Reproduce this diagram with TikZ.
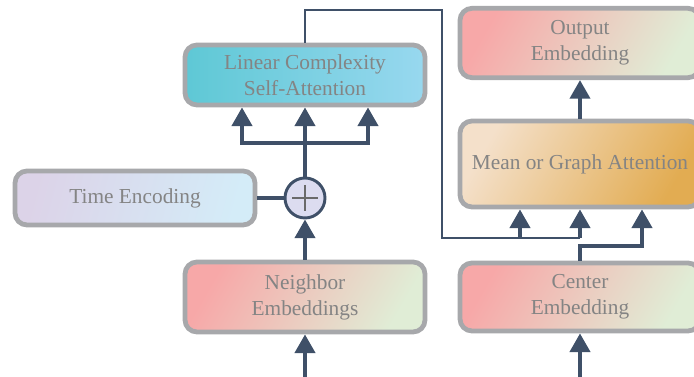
\documentclass[tikz,border=0pt]{standalone}
\usepackage{fontspec}
\setmainfont{Liberation Serif}
\usetikzlibrary{arrows.meta,calc}

\definecolor{linkblue}{HTML}{3F5068}
\definecolor{framegray}{HTML}{A7A8AB}
\definecolor{textgray}{HTML}{848484}
\definecolor{pinkA}{HTML}{F7A8A8}
\definecolor{greenA}{HTML}{E0EDD6}
\definecolor{cyanA}{HTML}{5EC8D5}
\definecolor{cyanB}{HTML}{98D8EF}
\definecolor{sandA}{HTML}{F4E0CA}
\definecolor{sandB}{HTML}{E2AC52}
\definecolor{lilacA}{HTML}{DCD3E8}
\definecolor{skyA}{HTML}{D4ECF8}
\definecolor{plusfill}{HTML}{DCDCF0}

\newcommand*{\boxw}{180pt}
\newcommand*{\forky}{143}
\newcommand*{\skipy}{238}

\begin{document}
\begin{tikzpicture}
[
	x=0.75pt, y=-0.75pt,
	block/.style={draw=framegray,line width=3.6pt,rounded corners=9pt,
		minimum width=\boxw,align=center,text=textgray,
		font=\fontsize{16}{19.5}\selectfont},
	embblock/.style={block,top color=pinkA,bottom color=greenA,shading angle=60},
	link/.style={draw=linkblue,line width=3pt},
	arrow/.style={link,-{Triangle[width=15pt,length=14pt]}},
	thinlink/.style={draw=linkblue,line width=2.2pt}
]

	\useasboundingbox (0,0) rectangle (694,377);

	% left column
	\node[block,left color=cyanA,right color=cyanB,minimum height=45pt] (lcsa) at (305,75) {Linear Complexity\\Self-Attention};
	\node[embblock,minimum height=52.5pt] (neigh) at (305,297) {Neighbor\\Embeddings};
	\node[block,top color=lilacA,bottom color=skyA,shading angle=75,minimum height=40.5pt] (time) at (135,198) {Time Encoding};
	\node[circle,draw=linkblue,line width=2.2pt,fill=plusfill,minimum size=30pt,inner sep=0pt] (plus) at (305,198) {};
	\draw[textgray!80!black,line width=1.5pt] ($(plus.center)+(-13,0)$) -- ($(plus.center)+(13,0)$);
	\draw[textgray!80!black,line width=1.5pt] ($(plus.center)+(0,-13)$) -- ($(plus.center)+(0,13)$);

	% right column
	\node[embblock,minimum height=52pt] (out) at (580,43) {Output\\Embedding};
	\node[block,top color=sandA,bottom color=sandB,shading angle=60,minimum height=64.5pt] (mean) at (580,164) {Mean or Graph Attention};
	\node[embblock,minimum height=51pt] (center) at (580,297) {Center\\Embedding};

	\coordinate (nin) at (305,377);
	\coordinate (cin) at (580,377);
	\coordinate (fork) at (305,\forky);
	\coordinate (skipend) at (580,\skipy);

	% inputs
	\draw[arrow] (nin) -- (neigh.south);
	\draw[arrow] (cin) -- (center.south);

	% neighbor path
	\draw[arrow] (neigh.north) -- (plus.south);
	\draw[link] (time.east) -- (plus.west);
	\draw[arrow] (plus.north) -- (lcsa.south);
	\draw[arrow] (fork) -| ($(lcsa.south)+(-63,0)$);
	\draw[arrow] (fork) -| ($(lcsa.south)+(63,0)$);

	% skip to aggregation
	\draw[thinlink] (lcsa.north) |- (442,10) |- (skipend);
	\draw[arrow] (skipend) -- (mean.south);
	\draw[arrow] ($(skipend)+(-60,0)$) -- ($(mean.south)+(-60,0)$);
	\draw[arrow] (center.north) -- ++(0,-15) -| ($(mean.south)+(62,0)$);

	\draw[arrow] (mean.north) -- (out.south);

\end{tikzpicture}
\end{document}
